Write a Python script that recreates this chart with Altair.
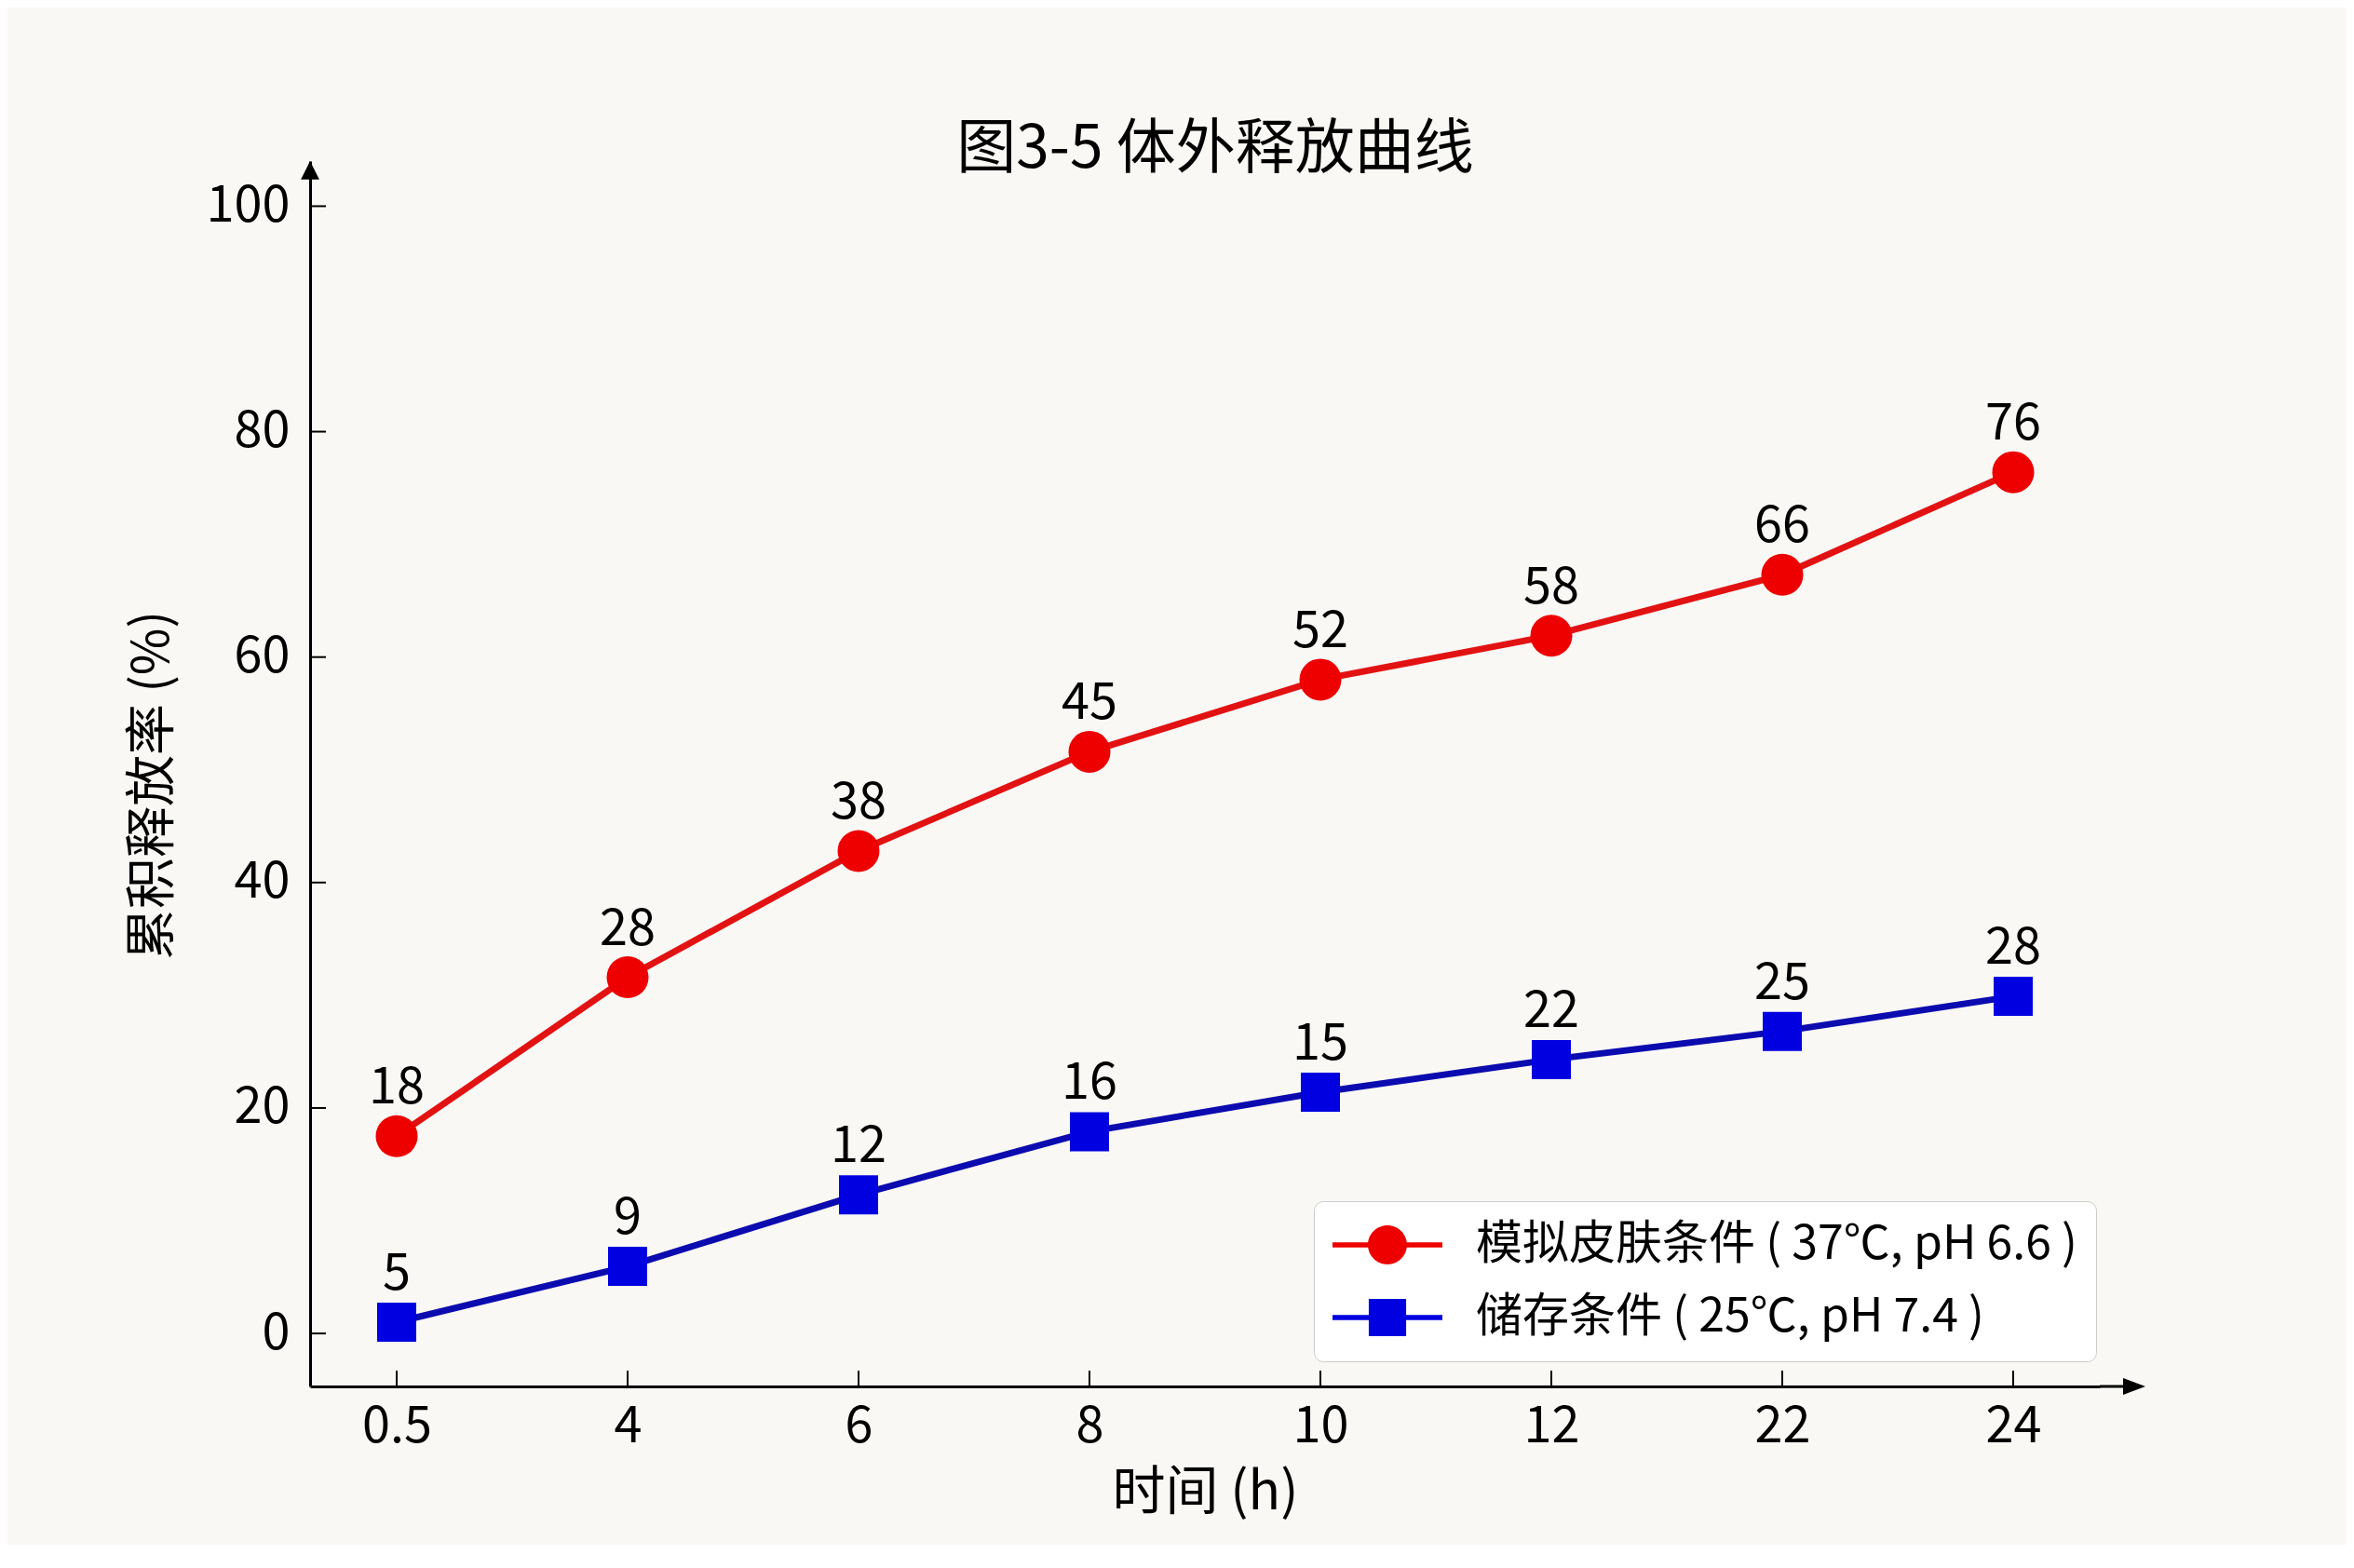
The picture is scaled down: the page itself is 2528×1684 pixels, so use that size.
import json

import altair as alt
import pandas as pd

FONT = "Noto Sans CJK SC"

times = ["0.5", "4", "6", "8", "10", "12", "22", "24"]
series_names = ["模拟皮肤条件 ( 37℃, pH 6.6 )", "储存条件 ( 25℃, pH 7.4 )"]
# plotted positions (as drawn) and the numbers printed above each marker
skin_values = [17.5, 31.6, 42.8, 51.6, 58.0, 61.9, 67.3, 76.4]
skin_labels = [18, 28, 38, 45, 52, 58, 66, 76]
store_values = [1.0, 5.95, 12.3, 17.9, 21.4, 24.3, 26.8, 29.9]
store_labels = [5, 9, 12, 16, 15, 22, 25, 28]
y_ticks = [0, 20, 40, 60, 80, 100]

RED_LINE, RED_PT = "#e31212", "#ee0000"
BLUE_LINE, BLUE_PT = "#0b0bb0", "#0000e0"

W, H = 1922, 1316

rows = []
for name, vals, labs in [
    (series_names[0], skin_values, skin_labels),
    (series_names[1], store_values, store_labels),
]:
    for i, (t, v, lab) in enumerate(zip(times, vals, labs)):
        rows.append({"idx": i, "time": t, "value": v, "label": lab, "series": name})
df = pd.DataFrame(rows)
ticks_df = pd.DataFrame({"value": y_ticks})
xticks_df = pd.DataFrame({"idx": list(range(len(times)))})

x_enc = alt.X(
    "idx:Q",
    scale=alt.Scale(domain=[-0.375, len(times) - 0.625], nice=False, zero=False),
    axis=alt.Axis(
        values=list(range(len(times))),
        labelExpr=f"{json.dumps(times)}[datum.value]",
        ticks=False,
        grid=False,
        domainColor="black",
        domainWidth=3,
        labelFontSize=54,
        labelPadding=16,
        labelColor="black",
        title="时间 (h)",
        titleFontSize=57,
        titleFontWeight="normal",
        titleColor="black",
        titleX=961,
        titleY=114,
        titleBaseline="middle",
        titleAlign="center",
    ),
)
y_enc = alt.Y(
    "value:Q",
    scale=alt.Scale(domain=[-4.7, 104], nice=False, zero=False),
    axis=alt.Axis(
        values=y_ticks,
        ticks=False,
        grid=False,
        domainColor="black",
        domainWidth=3,
        labelFontSize=54,
        labelPadding=22,
        labelColor="black",
        title="累积释放率 (%)",
        titleFontSize=55,
        titleFontWeight="normal",
        titleColor="black",
        titleX=-170,
        titleY=670,
        titleAngle=270,
        titleBaseline="middle",
        titleAlign="center",
    ),
)

base = alt.Chart(df)


def series_layers(name, line_color, pt_color, shape, size):
    sub = base.transform_filter(alt.datum.series == name)
    line = sub.mark_line(color=line_color, strokeWidth=7).encode(x=x_enc, y=y_enc)
    pts = sub.mark_point(
        shape=shape, filled=True, size=size, color=pt_color, opacity=1, strokeWidth=0
    ).encode(x=x_enc, y=y_enc)
    txt = sub.mark_text(
        font=FONT, fontSize=54, dy=-35, baseline="alphabetic", color="black"
    ).encode(x=x_enc, y=y_enc, text="label:N")
    return [line, pts, txt]


# legend symbols: a short bar with the marker on top, in a -1..1 box
circle_path = (
    "M-1,-0.045L1,-0.045L1,0.045L-1,0.045Z"
    "M-0.355,0A0.355,0.355 0 1,1 0.355,0A0.355,0.355 0 1,1 -0.355,0Z"
)
square_path = (
    "M-1,-0.045L1,-0.045L1,0.045L-1,0.045Z"
    "M-0.34,-0.34L0.34,-0.34L0.34,0.34L-0.34,0.34Z"
)
legend = alt.Legend(
    title=None,
    orient="none",
    legendX=1078,
    legendY=1117,
    fillColor="#ffffff",
    strokeColor="#cccccc",
    cornerRadius=10,
    padding=20,
    labelFont=FONT,
    labelFontSize=50,
    labelColor="black",
    labelLimit=1200,
    labelOffset=36,
    symbolSize=13924,
    symbolStrokeWidth=0,
    symbolOpacity=1,
    clipHeight=54,
    rowPadding=24,
)
legend_layer = base.mark_point(filled=True, opacity=0).encode(
    x=x_enc,
    y=y_enc,
    color=alt.Color(
        "series:N",
        scale=alt.Scale(domain=series_names, range=[RED_PT, BLUE_PT]),
        legend=legend,
    ),
    shape=alt.Shape(
        "series:N",
        scale=alt.Scale(domain=series_names, range=[circle_path, square_path]),
        legend=legend,
    ),
)

# inward tick marks
xticks = alt.Chart(xticks_df).mark_rule(color="black", strokeWidth=2).encode(
    x=x_enc, y=alt.value(H), y2=alt.value(H - 17)
)
yticks = alt.Chart(ticks_df).mark_rule(color="black", strokeWidth=2).encode(
    y=y_enc, x=alt.value(0), x2=alt.value(17)
)

# axis arrows
deco = alt.Chart(alt.Data(values=[{"a": 1}]))
x_ext = deco.mark_rule(color="black", strokeWidth=3).encode(
    x=alt.value(W), x2=alt.value(W + 40), y=alt.value(H)
)
x_arrow = deco.mark_point(
    shape="M1,0L-1,-0.75L-1,0.75Z", size=576, filled=True, color="black", opacity=1
).encode(x=alt.value(W + 37), y=alt.value(H))
y_arrow = deco.mark_point(
    shape="M0,-1L0.9,0.8L-0.9,0.8Z", size=484, filled=True, color="black", opacity=1
).encode(x=alt.value(0), y=alt.value(11))

layers = (
    [legend_layer, xticks, yticks, x_ext, x_arrow, y_arrow]
    + series_layers(series_names[0], RED_LINE, RED_PT, "circle", 2025)
    + series_layers(series_names[1], BLUE_LINE, BLUE_PT, "square", 1764)
)

chart = (
    alt.layer(*layers)
    .properties(
        width=W,
        height=H,
        title=alt.TitleParams(
            "图3-5 体外释放曲线",
            font=FONT,
            fontSize=64,
            fontWeight="normal",
            color="black",
            anchor="middle",
            frame="group",
            offset=-7,
            baseline="alphabetic",
            dx=11,
            dy=64,
        ),
        autosize=alt.AutoSizeParams(type="none"),
        padding={"left": 325, "top": 165, "right": 265, "bottom": 170},
        background="#f9f8f5",
    )
    .configure_view(stroke=None)
    .configure_axis(labelFont=FONT, titleFont=FONT)
    .configure_text(font=FONT)
)

chart.save("out.html", embed_options={"renderer": "svg", "actions": False})
